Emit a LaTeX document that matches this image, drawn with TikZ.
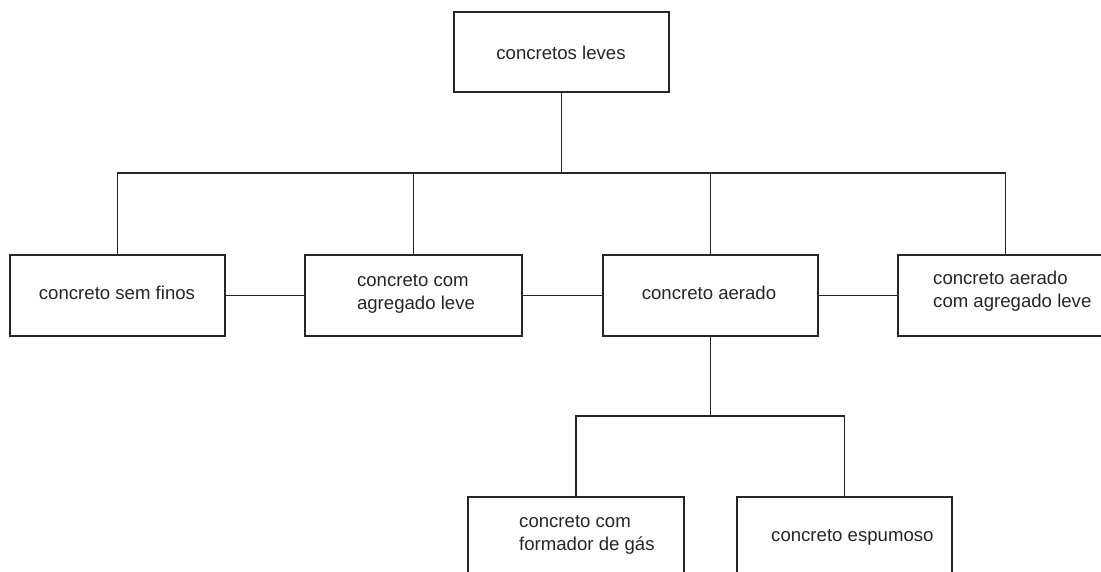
\documentclass[tikz,border=0pt]{standalone}
\usepackage{fontspec}
\setmainfont{Liberation Sans}
\begin{document}
\begin{tikzpicture}[x=1pt,y=-1pt,
  box/.style={draw=black!85,line width=1.3pt,rectangle,inner sep=0pt},
  lbl/.style={inner sep=0pt,align=left,font=\fontsize{18.6}{23}\selectfont,text=black!85},
  conn/.style={draw=black!85,line width=1.3pt}]
\useasboundingbox (0,0) rectangle (1101,571);
\clip (0,0) rectangle (1101,571);
\fill[white] (0,0) rectangle (1101,571);
% boxes
\node[box,minimum width=215pt,minimum height=80pt] (top) at (561.5,52) {};
\node[box,minimum width=215pt,minimum height=81pt] (b1) at (117.5,295.5) {};
\node[box,minimum width=217pt,minimum height=81pt] (b2) at (413.5,295.5) {};
\node[box,minimum width=215pt,minimum height=81pt] (b3) at (710.5,295.5) {};
\node[box,minimum width=215pt,minimum height=81pt] (b4) at (1005.5,295.5) {};
\node[box,minimum width=216pt,minimum height=100pt] (b5) at (576,547) {};
\node[box,minimum width=215pt,minimum height=100pt] (b6) at (844.5,547) {};
% labels
\node[lbl] (t0) at (561,53) {concretos leves};
\node[lbl] (t1) at (117,293) {concreto sem finos};
\node[lbl] (t2) at (416,294) {concreto com\\agregado leve};
\node[lbl] (t3) at (709,293) {concreto aerado};
\node[lbl,anchor=west] (t4) at (933,291) {concreto aerado\\com agregado leve};
\node[lbl,anchor=west] (t5) at (519,535) {concreto com\\formador de gás};
\node[lbl,anchor=west] (t6) at (771,537) {concreto espumoso};
% tree connectors
\coordinate (j1) at (561.5,173);
\draw[conn] (top.south) -- (j1);
\draw[conn] (b1.north) |- (j1) -| (b4.north);
\draw[conn] (b2.north) -- (b2.north |- j1);
\draw[conn] (b3.north) -- (b3.north |- j1);
\coordinate (j2) at (710.5,416);
\draw[conn] (b3.south) -- (j2);
\draw[conn] (b5.north) |- (j2) -| (b6.north);
% side connectors
\draw[conn] (b1.east) -- (b2.west);
\draw[conn] (b2.east) -- (b3.west);
\draw[conn] (b3.east) -- (b4.west);
\end{tikzpicture}
\end{document}
